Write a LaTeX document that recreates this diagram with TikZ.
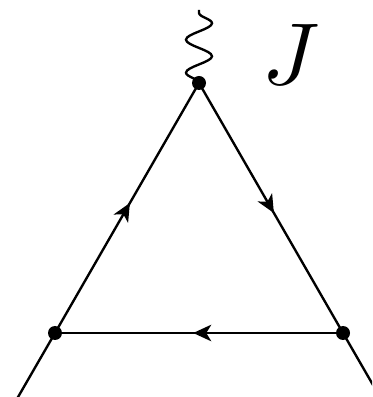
\documentclass[tikz,border=0pt]{standalone}
\usetikzlibrary{arrows.meta,decorations.pathmorphing,decorations.markings}

\tikzset{
  vertex/.style={circle, fill=black, inner sep=0pt, minimum size=0.28cm},
  fermion/.style={postaction={decorate}, decoration={markings,
      mark=at position 0.52 with {\arrow{Stealth[length=0.36cm, width=0.33cm, inset=0.1cm]}}}},
  photon/.style={decorate, decoration={snake, segment length=0.66cm, amplitude=0.26cm}}
}

\begin{document}
\begin{tikzpicture}[line width=1.35pt]
  \clip (0,0) rectangle (7.44,7.94);
  \node[vertex] (top) at (3.98,6.28) {};
  \node[vertex] (left) at (1.10,1.28) {};
  \node[vertex] (right) at (6.86,1.28) {};
  \coordinate (src) at (3.98,7.74);
  \coordinate (inleft) at (0.09,-0.47);
  \coordinate (outright) at (7.87,-0.47);
  \node[scale=5] (J) at (5.82,6.86) {$J$};
  \draw[fermion] (left.center) -- (top.center);
  \draw[fermion] (top.center) -- (right.center);
  \draw[fermion] (right.center) -- (left.center);
  \draw (inleft) -- (left.center);
  \draw (right.center) -- (outright);
  \draw[photon] (top.center) -- (src);
\end{tikzpicture}
\end{document}
